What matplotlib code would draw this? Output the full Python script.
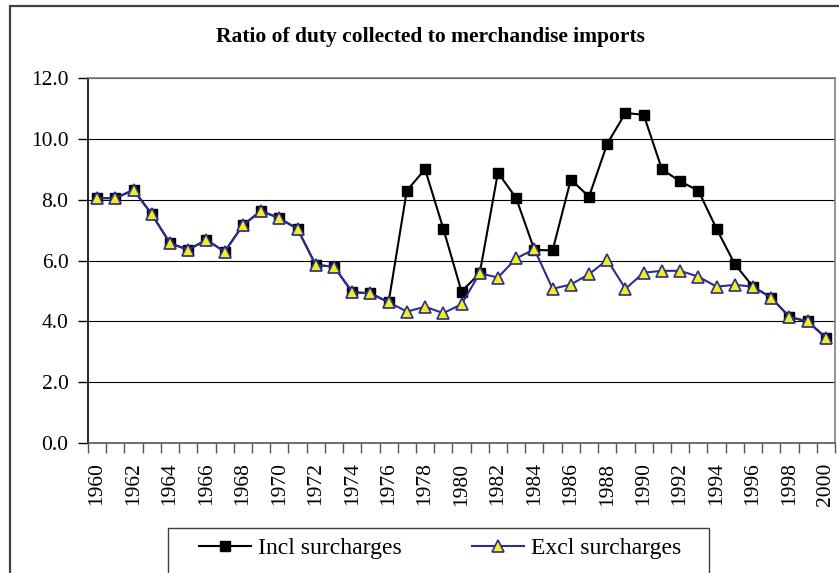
import matplotlib
matplotlib.use("Agg")
import matplotlib.pyplot as plt
from matplotlib.patches import Rectangle

years = list(range(1960, 2001))
incl = [8.05, 8.05, 8.32, 7.52, 6.57, 6.35, 6.68, 6.29, 7.16, 7.63,
        7.39, 7.04, 5.85, 5.80, 4.96, 4.92, 4.63, 8.30, 9.00, 7.05,
        4.98, 5.58, 8.89, 8.05, 6.35, 6.33, 8.66, 8.10, 9.84, 10.85,
        10.79, 9.00, 8.60, 8.30, 7.04, 5.88, 5.14, 4.78, 4.14, 4.00, 3.46]
excl = [8.05, 8.05, 8.32, 7.52, 6.57, 6.35, 6.68, 6.29, 7.16, 7.63,
        7.39, 7.04, 5.85, 5.80, 4.96, 4.92, 4.63, 4.32, 4.48, 4.27,
        4.56, 5.58, 5.44, 6.07, 6.37, 5.07, 5.21, 5.55, 6.02, 5.07,
        5.60, 5.66, 5.66, 5.47, 5.14, 5.20, 5.14, 4.78, 4.14, 4.00, 3.46]
yticks = [0, 2, 4, 6, 8, 10, 12]

plt.rcParams['font.family'] = ['Liberation Serif', 'DejaVu Serif']

W, H = 839, 573
fig = plt.figure(figsize=(W / 100, H / 100), dpi=100)
ax = fig.add_axes([88 / W, 1 - 443 / H, 747 / W, 365 / H])

x = list(range(len(years)))
navy = "#2B2E8C"
ax.plot(x, incl, color="black", lw=1.5, marker="s", ms=7.5,
        mfc="black", mec="black", label="Incl surcharges", zorder=3)
ax.plot(x, excl, color=navy, lw=1.5, marker="^", ms=8.5,
        mfc="#F2EE1C", mec=navy, mew=1.2, label="Excl surcharges", zorder=4)

ax.set_xlim(-0.5, len(years) - 0.5)
ax.set_ylim(0, 12)
ax.set_yticks(yticks)
ax.set_yticklabels([f"{v:.1f}" for v in yticks], fontsize=15.5)
ax.tick_params(axis="y", direction="out", length=7, width=1, pad=7)
ax.yaxis.grid(True, color="black", lw=0.8)
ax.set_axisbelow(True)

# category boundaries as ticks, labels at every other year
ax.set_xticks([i - 0.5 for i in range(len(years) + 1)])
ax.set_xticklabels([])
ax.tick_params(axis="x", which="major", direction="out", length=7, width=1, color="#555555")
ax.set_xticks(x[::2], minor=True)
ax.set_xticklabels([str(y) for y in years[::2]], minor=True, rotation=90, fontsize=15.5)
ax.tick_params(axis="x", which="minor", length=0, pad=14)

ax.spines["left"].set_color("black")
ax.spines["bottom"].set_color("#555555")
for s in ("top", "right"):
    ax.spines[s].set_color("#808080")
for s in ax.spines.values():
    s.set_linewidth(1.2)

fig.text(430 / W, 1 - 37 / H, "Ratio of duty collected to merchandise imports",
         ha="center", va="center", fontsize=15.5, fontweight="bold")

# chart area frame, runs off the right and bottom edges
fig.patches.append(Rectangle((10 / W, -0.1), 1.0, 1 - 6 / H + 0.1,
                             transform=fig.transFigure, fill=False,
                             edgecolor="#404040", lw=1.6, zorder=0))
# legend box, also cut off at the bottom
fig.patches.append(Rectangle((168 / W, -0.1), (709 - 168) / W, 0.1 + 1 - 528 / H,
                             transform=fig.transFigure, fill=False,
                             edgecolor="#404040", lw=1.0, zorder=0))
fig.legend(loc="center", bbox_to_anchor=(440 / W, 1 - 548 / H), ncol=2,
           frameon=False, fontsize=17, handlelength=2.2, columnspacing=3.0,
           handletextpad=0.3)

fig.savefig("out.png", dpi=100)
